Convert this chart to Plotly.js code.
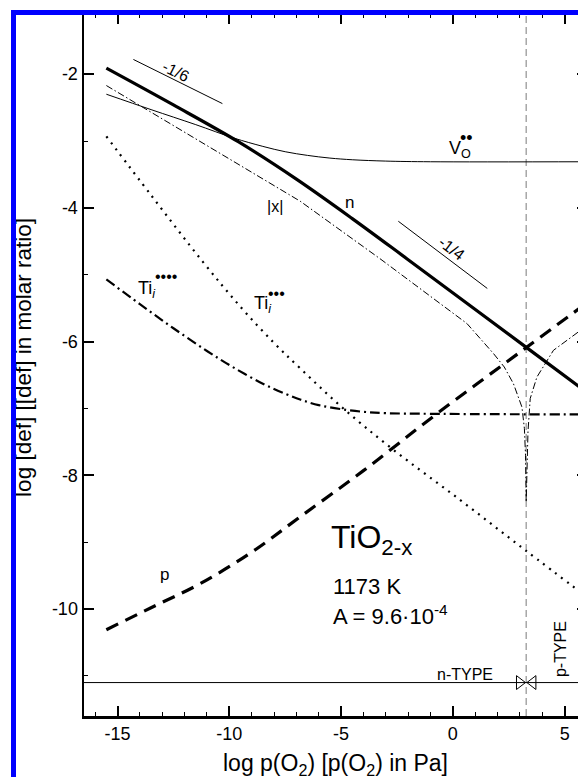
<!DOCTYPE html>
<html><head><meta charset="utf-8">
<script src="https://cdn.plot.ly/plotly-3.0.1.min.js"></script>
<style>
html,body{margin:0;padding:0;overflow:hidden;background:#fff;width:578px;height:777px;}
#chart{position:absolute;left:0;top:0;width:620px;height:777px;}
#frame{position:absolute;left:11px;top:10px;width:700px;height:800px;border-left:5px solid #0000ff;border-top:5px solid #0000ff;pointer-events:none;z-index:10;}
</style></head><body>
<div id="chart"></div><div id="frame"></div>
<script>
// ---- data (log p(O2) in Pa  vs  log [defect]) ----
const nX   = [-15.5, -12.5, -9.6, -7, -4.5, -2.06, 3.3, 6];
const nY   = [-1.91, -2.46, -3.01, -3.57, -4.16, -4.76, -6.09, -6.76];

const vX   = [-15.5, -13.5, -11.5, -9.8, -8.5, -7.5, -6.5, -5.5, -4.5, -3, -1, 6];
const vY   = [-2.30, -2.53, -2.755, -2.955, -3.08, -3.16, -3.215, -3.255, -3.28, -3.30, -3.31, -3.31];

const absXx = [-15.5, -12, -9, -6.83, -3.26, 0.63, 1.82, 2.3, 2.71, 3.09, 3.2, 3.25, 3.28, 3.31, 3.36, 3.46, 3.76, 4.5, 5.61, 6];
const absXy = [-2.17, -2.87, -3.47, -3.90, -4.76, -5.73, -6.18, -6.38, -6.63, -6.98, -7.3, -7.7, -8.4, -7.9, -7.35, -6.85, -6.53, -6.13, -5.85, -5.76];

const ti4X = [-15.5, -14, -12.5, -11, -9.8, -8.5, -7.5, -6.8, -6, -5, -4, -3, -1, 6];
const ti4Y = [-5.07, -5.44, -5.80, -6.14, -6.39, -6.63, -6.78, -6.87, -6.95, -7.01, -7.05, -7.07, -7.08, -7.09];

const ti3X = [-15.5, -13.5, -11.2, -9.5, -8, -6.83, -4.97, -2.73, 0.33, 3.24, 6];
const ti3Y = [-2.93, -3.81, -4.80, -5.48, -6.02, -6.40, -6.98, -7.60, -8.37, -9.12, -9.82];

const pX   = [-15.5, -13.5, -11.3, -9, -6.83, -4, -0.72, 3.28, 6];
const pY   = [-10.31, -9.98, -9.62, -9.15, -8.62, -7.93, -7.08, -6.09, -5.42];

const slope16 = {x: [-14.29, -10.31], y: [-1.78, -2.44]};
const slope14 = {x: [-2.44, 1.54], y: [-4.20, -5.205]};

const boundaryX = 3.28;      // n/p transition
const typeLineY = -11.1;

const xTickVals = [-15, -10, -5, 0, 5];
const xTickText = ['-15', '-10', '-5', '0', '5'];
const yTickVals = [-2, -4, -6, -8, -10];
const yTickText = ['-2', '-4', '-6', '-8', '-10'];

const FONT = 'Liberation Sans, Arial, Helvetica, sans-serif';
const K = 'black';
const SPL = {shape: 'spline', smoothing: 1};

const traces = [
  {x: vX, y: vY, mode: 'lines', line: Object.assign({color: K, width: 1}, SPL), hoverinfo: 'skip'},
  {x: absXx, y: absXy, mode: 'lines', line: {color: K, width: 1, dash: '7px,2.5px,1.5px,2.5px'}, hoverinfo: 'skip'},
  {x: ti4X, y: ti4Y, mode: 'lines', line: Object.assign({color: K, width: 2.2, dash: '10px,4px,2px,4px'}, SPL), hoverinfo: 'skip'},
  {x: ti3X, y: ti3Y, mode: 'lines', line: Object.assign({color: K, width: 2.2, dash: '2px,5.5px'}, SPL), hoverinfo: 'skip'},
  {x: pX, y: pY, mode: 'lines', line: Object.assign({color: K, width: 3.2, dash: '13px,8px'}, SPL), hoverinfo: 'skip'},
  {x: nX, y: nY, mode: 'lines', line: Object.assign({color: K, width: 3.2}, SPL), hoverinfo: 'skip'},
  {x: [boundaryX - 0.3, boundaryX + 0.3], y: [typeLineY, typeLineY], mode: 'markers',
   marker: {symbol: ['triangle-right', 'triangle-left'], size: 12, color: 'white', line: {color: K, width: 1}},
   hoverinfo: 'skip', cliponaxis: false}
];

function ann(text, x, y, size, opts) {
  return Object.assign({text: text, x: x, y: y, xref: 'x', yref: 'y', showarrow: false,
    font: {family: FONT, size: size, color: K}, xanchor: 'center', yanchor: 'middle'}, opts || {});
}

const annotations = [
  ann('-1/6', -12.39, -1.963, 16, {textangle: 26.5}),
  ann('-1/4', -0.054, -4.602, 16, {textangle: 37}),
  ann('|x|', -7.96, -3.975, 16),
  ann('n', -4.62, -3.916, 17),
  ann('V<sub>O</sub>', -0.28, -3.12, 18, {xanchor: 'left'}),
  ann('••', 0.6, -2.95, 18),
  ann('Ti<sub><i>i</i></sub>', -14.17, -5.218, 18, {xanchor: 'left'}),
  ann('••••', -12.83, -5.03, 16),
  ann('Ti<sub><i>i</i></sub>', -9.0, -5.442, 18, {xanchor: 'left'}),
  ann('•••', -7.88, -5.28, 16),
  ann('p', -12.89, -9.487, 17),
  ann('TiO<sub>2-x</sub>', -5.55, -8.96, 32, {xanchor: 'left'}),
  ann('1173 K', -5.45, -9.668, 22, {xanchor: 'left'}),
  ann('A = 9.6·10<sup>-4</sup>', -5.45, -10.09, 22, {xanchor: 'left'}),
  ann('n-TYPE', 0.54, -10.974, 16),
  ann('p-TYPE', 4.79, -10.60, 16, {textangle: -90}),
  {text: 'log p(O<sub>2</sub>) [p(O<sub>2</sub>) in Pa]', xref: 'paper', yref: 'paper', x: 0.5, y: -0.0685,
   showarrow: false, xanchor: 'center', yanchor: 'middle', font: {family: FONT, size: 23, color: K}},
  {text: 'log [def] [[def] in molar ratio]', xref: 'paper', yref: 'paper', x: -0.1205, y: 0.5107,
   showarrow: false, xanchor: 'center', yanchor: 'middle', textangle: -90, font: {family: FONT, size: 22.5, color: K}}
];

const shapes = [
  {type: 'line', xref: 'x', yref: 'paper', x0: boundaryX, x1: boundaryX, y0: 0, y1: 1, layer: 'below',
   line: {color: '#9a9a9a', width: 1.3, dash: '7px,4px'}},
  {type: 'line', xref: 'paper', yref: 'y', x0: 0, x1: 1, y0: typeLineY, y1: typeLineY, line: {color: K, width: 1}},
  {type: 'line', xref: 'x', yref: 'y', x0: slope16.x[0], x1: slope16.x[1], y0: slope16.y[0], y1: slope16.y[1], line: {color: K, width: 1}},
  {type: 'line', xref: 'x', yref: 'y', x0: slope14.x[0], x1: slope14.x[1], y0: slope14.y[0], y1: slope14.y[1], line: {color: K, width: 1}}
];

const axisCommon = {
  showgrid: false, zeroline: false, showline: true, linecolor: K, linewidth: 2.5,
  mirror: 'ticks', ticks: 'inside', ticklen: 10, tickwidth: 2, tickcolor: K,
  tickmode: 'array', tickfont: {family: FONT, size: 18, color: K},
  minor: {ticks: 'inside', ticklen: 4, tickwidth: 1, tickcolor: K, tickmode: 'linear', tick0: 0, dtick: 1, showgrid: false}
};

const layout = {
  width: 620, height: 777,
  margin: {l: 84, r: 33, t: 14, b: 61},
  paper_bgcolor: 'white', plot_bgcolor: 'white',
  showlegend: false,
  font: {family: FONT, color: K},
  xaxis: Object.assign({}, axisCommon, {range: [-16.5, 6], tickvals: xTickVals, ticktext: xTickText}),
  yaxis: Object.assign({}, axisCommon, {range: [-11.6, -1.1], tickvals: yTickVals, ticktext: yTickText}),
  annotations: annotations,
  shapes: shapes
};

Plotly.newPlot('chart', traces, layout, {staticPlot: true, displayModeBar: false});
</script></body></html>
